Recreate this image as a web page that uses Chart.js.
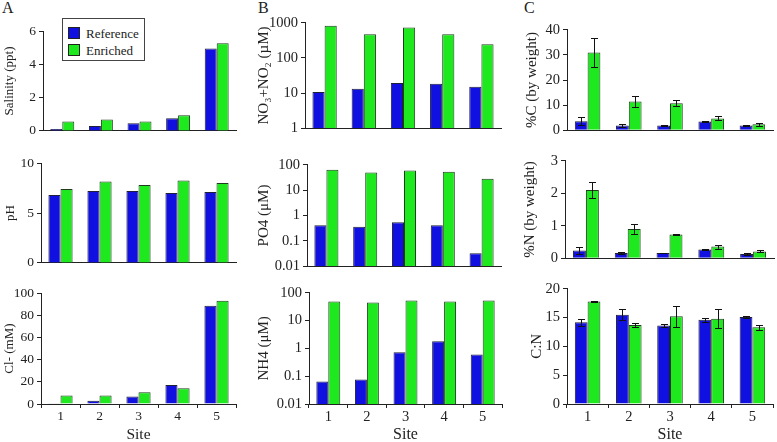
<!DOCTYPE html>
<html>
<head>
<meta charset="utf-8">
<script src="https://cdn.jsdelivr.net/npm/chart.js@4"></script>
<style>
    body {
        margin: 0;
        background: #fff;
        width: 777px;
        height: 442px;
        position: relative;
        overflow: hidden;
        font-family: "Liberation Serif", "Times New Roman", serif;
        color: #222;
    }
    canvas { position: absolute; }
    .letter { position: absolute; font-size: 16px; line-height: 16px; }
    #legend {
        position: absolute;
        left: 62px;
        top: 18px;
        width: 81px;
        height: 41px;
        border: 1px solid #444;
        background: #fff;
        font-size: 13px;
    }
    #legend .row { position: absolute; left: 5px; height: 13px; line-height: 13px; }
    #legend .sw {
        display: inline-block;
        width: 10px;
        height: 10px;
        border: 1px solid #222;
        vertical-align: -1px;
        margin-right: 6px;
    }
</style>
</head>
<body>
<div class="letter" style="left:2px;top:0px">A</div>
<div class="letter" style="left:258px;top:0px">B</div>
<div class="letter" style="left:524px;top:0px">C</div>
<div id="legend">
    <div class="row" style="top:8px"><span class="sw" style="background:#1010e0"></span>Reference</div>
    <div class="row" style="top:25px"><span class="sw" style="background:#1ee81e"></span>Enriched</div>
</div>

<script>
// Sites and values
const sites = ['1', '2', '3', '4', '5'];

const salinityRef = [0.11, 0.3, 0.46, 0.76, 4.96];
const salinityEnr = [0.57, 0.68, 0.57, 0.94, 5.27];
const phRef = [6.8, 7.2, 7.2, 7.0, 7.1];
const phEnr = [7.4, 8.15, 7.8, 8.25, 8.0];
const clRef = [0.6, 3.0, 6.8, 17.2, 88.5];
const clEnr = [7.7, 7.7, 10.6, 14.2, 93];

const noxRef = [10.8, 13.2, 19.4, 18.3, 15.2];
const noxEnr = [820, 466, 730, 466, 246];
const po4Ref = [0.41, 0.36, 0.54, 0.41, 0.033];
const po4Enr = [63, 49, 59, 53, 28];
const nh4Ref = [0.065, 0.076, 0.72, 1.8, 0.6];
const nh4Enr = [48, 44.5, 52, 48, 52];

const pcRef = [3.6, 1.9, 1.9, 3.5, 1.9];
const pcRefErr = [1.5, 0.6, 0.1, 0.1, 0.2];
const pcEnr = [30.9, 11.5, 10.8, 4.7, 2.4];
const pcEnrErr = [5.7, 2.2, 1.1, 0.8, 0.6];
const pnRef = [0.24, 0.16, 0.16, 0.27, 0.13];
const pnRefErr = [0.12, 0.03, 0.01, 0.01, 0.02];
const pnEnr = [2.1, 0.9, 0.73, 0.36, 0.21];
const pnEnrErr = [0.25, 0.14, 0.02, 0.06, 0.03];
const cnRef = [14.2, 15.5, 13.6, 14.6, 15.1];
const cnRefErr = [0.6, 0.9, 0.3, 0.3, 0.1];
const cnEnr = [17.8, 13.7, 15.2, 14.8, 13.3];
const cnEnrErr = [0.1, 0.4, 1.8, 1.6, 0.4];

// Tick labels
const salinityTicks = [0, 2, 4, 6];
const phTicks = [0, 5, 10];
const clTicks = [0, 20, 40, 60, 80, 100];
const noxTicks = [1, 10, 100, 1000];
const po4Ticks = [0.01, 0.1, 1, 10, 100];
const nh4Ticks = [0.01, 0.1, 1, 10, 100];
const pcTicks = [0, 10, 20, 30, 40];
const pnTicks = [0, 1, 2, 3];
const cnTicks = [0, 5, 10, 15, 20];

const BLUE = '#1010e0';
const GREEN = '#1ee81e';
const FONT = '"Liberation Serif", "Times New Roman", serif';

// font sizes per column: ticks, axis title, "Site"
const colA = { tick: 13.5, title: 13, site: 15.5 };
const colB = { tick: 14.5, title: 15, site: 16 };
const colC = { tick: 14.5, title: 15, site: 16 };

// Error bars drawn on top of the bars
const errorBars = {
    id: 'errorBars',
    afterDatasetsDraw(chart) {
        const ctx = chart.ctx;
        const y = chart.scales.y;
        chart.data.datasets.forEach((ds, i) => {
            if (!ds.errors) return;
            chart.getDatasetMeta(i).data.forEach((bar, j) => {
                const v = ds.data[j], e = ds.errors[j];
                const x = Math.round(bar.x) + 0.5;
                const top = Math.round(y.getPixelForValue(v + e)) + 0.5;
                const bot = Math.round(y.getPixelForValue(v - e)) + 0.5;
                ctx.save();
                ctx.strokeStyle = '#111';
                ctx.lineWidth = 1;
                ctx.beginPath();
                ctx.moveTo(x, top); ctx.lineTo(x, bot);
                ctx.moveTo(x - 3.5, top); ctx.lineTo(x + 3.5, top);
                ctx.moveTo(x - 3.5, bot); ctx.lineTo(x + 3.5, bot);
                ctx.stroke();
                ctx.restore();
            });
        });
    }
};

function panel(box, title, ref, enr, ticks, extra) {
    extra = extra || {};
    const fs = box.fonts;
    const canvas = document.createElement('canvas');
    const padTop = 10;
    const below = box.bottomRow ? 442 - box.bottom : 4;
    canvas.width = box.right - box.left + 3;
    canvas.height = box.bottom - box.top + padTop + below;
    canvas.style.left = box.left + 'px';
    canvas.style.top = (box.top - padTop) + 'px';
    document.body.appendChild(canvas);

    new Chart(canvas.getContext('2d'), {
        type: 'bar',
        data: {
            labels: sites,
            datasets: [{
                label: 'Reference',
                data: ref,
                errors: extra.refErr,
                backgroundColor: BLUE,
                borderColor: '#202038',
                borderWidth: 1
            }, {
                label: 'Enriched',
                data: enr,
                errors: extra.enrErr,
                backgroundColor: GREEN,
                borderColor: '#1d3d1d',
                borderWidth: 1
            }]
        },
        options: {
            responsive: false,
            animation: false,
            devicePixelRatio: 1,
            layout: { padding: { top: padTop, right: 3, left: 0, bottom: 0 } },
            datasets: { bar: { categoryPercentage: 0.62, barPercentage: 1 } },
            plugins: {
                legend: { display: false },
                tooltip: { enabled: false }
            },
            scales: {
                x: {
                    grid: {
                        display: !!box.bottomRow,
                        offset: true,
                        drawOnChartArea: false,
                        tickLength: 4,
                        color: '#222'
                    },
                    border: { display: true, color: '#222' },
                    ticks: {
                        display: !!box.bottomRow,
                        color: '#222',
                        padding: 0,
                        font: { family: FONT, size: fs.tick }
                    },
                    title: {
                        display: !!box.bottomRow,
                        text: 'Site',
                        color: '#222',
                        padding: { top: 0, bottom: -1 },
                        font: { family: FONT, size: fs.site, lineHeight: 1 }
                    },
                    afterFit: s => { s.height = below; }
                },
                y: {
                    type: extra.log ? 'logarithmic' : 'linear',
                    min: ticks[0],
                    max: ticks[ticks.length - 1],
                    grid: { drawOnChartArea: false, tickLength: 4, color: '#222' },
                    border: { display: true, color: '#222' },
                    ticks: {
                        color: '#222',
                        padding: 3,
                        font: { family: FONT, size: fs.tick },
                        callback: v => String(v)
                    },
                    afterBuildTicks: s => { s.ticks = ticks.map(v => ({ value: v })); },
                    title: {
                        display: true,
                        text: title,
                        color: '#222',
                        padding: { top: box.titlePad, bottom: 0 },
                        font: { family: FONT, size: fs.title }
                    },
                    afterFit: s => { s.width = box.axisX - box.left; }
                }
            }
        },
        plugins: [errorBars]
    });
}

// Column A
panel({ left: 0, axisX: 43, right: 236, top: 30, bottom: 138, titlePad: 2, fonts: colA },
    'Salinity (ppt)', salinityRef, salinityEnr, salinityTicks);
panel({ left: 0, axisX: 41, right: 236, top: 162, bottom: 270, titlePad: 3, fonts: colA },
    'pH', phRef, phEnr, phTicks);
panel({ left: 0, axisX: 41, right: 236, top: 292, bottom: 404, titlePad: 2, fonts: colA, bottomRow: true },
    'Cl- (mM)', clRef, clEnr, clTicks);

// Column B
panel({ left: 255, axisX: 305, right: 501, top: 21, bottom: 136, titlePad: 0, fonts: colB },
    'NO\u2083+NO\u2082 (\u00b5M)', noxRef, noxEnr, noxTicks, { log: true });
panel({ left: 255, axisX: 307, right: 501, top: 163, bottom: 274, titlePad: 0, fonts: colB },
    'PO4 (\u03bcM)', po4Ref, po4Enr, po4Ticks, { log: true });
panel({ left: 255, axisX: 309, right: 502, top: 291, bottom: 404, titlePad: 0, fonts: colB, bottomRow: true },
    'NH4 (\u03bcM)', nh4Ref, nh4Enr, nh4Ticks, { log: true });

// Column C
panel({ left: 516, axisX: 567, right: 773, top: 28, bottom: 138, titlePad: 7, fonts: colC },
    '%C (by weight)', pcRef, pcEnr, pcTicks, { refErr: pcRefErr, enrErr: pcEnrErr });
panel({ left: 516, axisX: 565, right: 774, top: 159, bottom: 266, titlePad: 5, fonts: colC },
    '%N (by weight)', pnRef, pnEnr, pnTicks, { refErr: pnRefErr, enrErr: pnEnrErr });
panel({ left: 516, axisX: 567, right: 773, top: 287, bottom: 404, titlePad: 12, fonts: colC, bottomRow: true },
    'C:N', cnRef, cnEnr, cnTicks, { refErr: cnRefErr, enrErr: cnEnrErr });
</script>
</body>
</html>
